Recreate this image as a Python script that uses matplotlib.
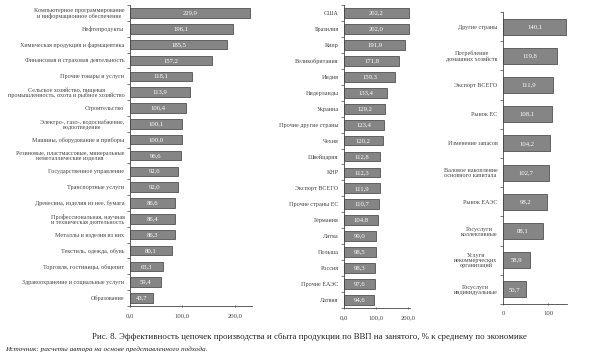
import matplotlib

matplotlib.use("Agg")
import matplotlib.pyplot as plt
import numpy as np

plt.rcParams.update({
    "font.family": ["Liberation Serif", "DejaVu Serif"],
    "text.color": "#222222",
    "axes.edgecolor": "#444444",
    "xtick.color": "#444444",
    "ytick.color": "#444444",
})

BAR = "#858585"
EDGE = "#3a3a3a"

# --- data ---
industries = [
    "Компьютерное программирование\nи информационное обеспечение",
    "Нефтепродукты",
    "Химическая продукция и фармацевтика",
    "Финансовая и страховая деятельность",
    "Прочие товары и услуги",
    "Сельское хозяйство, пищевая\nпромышленность, охота и рыбное хозяйство",
    "Строительство",
    "Электро-, газо-, водоснабжение,\nводоотведение",
    "Машины, оборудование и приборы",
    "Резиновые, пластмассовые, минеральные\nнеметаллические изделия",
    "Государственное управление",
    "Транспортные услуги",
    "Древесина, изделия из нее, бумага",
    "Профессиональная, научная\nи техническая деятельность",
    "Металлы и изделия из них",
    "Текстиль, одежда, обувь",
    "Торговля, гостиницы, общепит",
    "Здравоохранение и социальные услуги",
    "Образование",
]
industry_vals = [229.9, 196.1, 185.5, 157.2, 118.1, 113.9, 106.4, 100.1, 100.0,
                 96.6, 92.6, 92.0, 86.6, 86.4, 86.3, 80.1, 63.3, 59.4, 43.7]

countries = [
    "США", "Бразилия", "Кипр", "Великобритания", "Индия", "Нидерланды",
    "Украина", "Прочие другие страны", "Чехия", "Швейцария", "КНР",
    "Экспорт ВСЕГО", "Прочие страны ЕС", "Германия", "Литва", "Польша",
    "Россия", "Прочие ЕАЭС", "Латвия",
]
country_vals = [202.2, 202.0, 191.9, 171.8, 159.3, 133.4, 129.2, 123.4, 120.2,
                112.8, 112.3, 111.9, 110.7, 104.8, 99.0, 98.5, 98.3, 97.6, 94.6]

markets = [
    "Другие страны",
    "Потребление\nдомашних хозяйств",
    "Экспорт ВСЕГО",
    "Рынок ЕС",
    "Изменение запасов",
    "Валовое накопление\nосновного капитала",
    "Рынок ЕАЭС",
    "Госуслуги\nколлективные",
    "Услуги\nнекоммерческих\nорганизаций",
    "Госуслуги\nиндивидуальные",
]
market_vals = [140.1, 119.8, 111.9, 108.1, 104.2, 102.7, 98.2, 88.1, 58.9, 50.7]

xticks_12 = [0, 100, 200]
xticks_3 = [0, 100]


def panel(rect, labels, vals, xmax, xticks, tick_fmt, bar_h):
    ax = fig.add_axes(rect)
    y = np.arange(len(vals))
    ax.barh(y, vals, height=bar_h, color=BAR, edgecolor=EDGE, lw=0.5)
    for yi, v in zip(y, vals):
        ax.text(v / 2, yi, f"{v:.1f}".replace(".", ","), ha="center", va="center",
                color="white", fontsize=4.8)
    ax.set_ylim(len(vals) - 0.5, -0.5)
    ax.set_xlim(0, xmax)
    ax.set_yticks(y)
    ax.set_yticklabels(labels, fontsize=4.4, multialignment="center", linespacing=1.0)
    # small marks between categories on the value axis
    ax.set_yticks(np.arange(len(vals) + 1) - 0.5, minor=True)
    ax.tick_params(axis="y", which="major", length=0, pad=4)
    ax.tick_params(axis="y", which="minor", length=2, width=0.5)
    ax.set_xticks(xticks)
    ax.set_xticklabels([tick_fmt(t) for t in xticks], fontsize=4.8)
    ax.tick_params(axis="x", length=2, width=0.5, pad=4, direction="inout")
    for s in ("top", "right"):
        ax.spines[s].set_visible(False)
    for s in ("left", "bottom"):
        ax.spines[s].set_linewidth(0.6)
    return ax


fig = plt.figure(figsize=(5.9, 3.54), dpi=100)

panel([130 / 590, 1 - 306 / 354, 122 / 590, 301 / 354], industries, industry_vals,
      233, xticks_12, lambda t: f"{t:.1f}".replace(".", ","), 0.6)
panel([344 / 590, 1 - 308 / 354, 66 / 590, 303 / 354], countries, country_vals,
      206, xticks_12, lambda t: f"{t:.1f}".replace(".", ","), 0.62)
panel([503 / 590, 1 - 304 / 354, 64 / 590, 292 / 354], markets, market_vals,
      142, xticks_3, lambda t: f"{t:d}", 0.55)

fig.text(0.525, 1 - 337 / 354,
         "Рис. 8. Эффективность цепочек производства и сбыта продукции по ВВП на занятого, % к среднему по экономике",
         ha="center", va="center", fontsize=6.3)
fig.text(5 / 590, 1 - 349 / 354,
         "Источник: расчеты автора на основе представленного подхода.",
         ha="left", va="center", fontsize=5.2, style="italic")

fig.savefig("out.png", dpi=100)
